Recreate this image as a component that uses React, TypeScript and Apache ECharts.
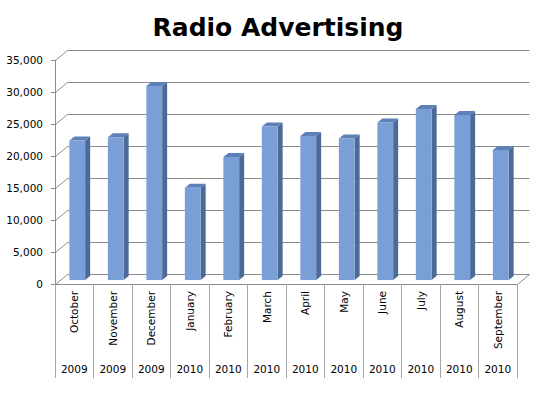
import React, { useEffect, useRef } from "react";
import * as echarts from "echarts";

const months = ["October", "November", "December", "January", "February", "March", "April", "May", "June", "July", "August", "September"];
const years = ["2009", "2009", "2009", "2010", "2010", "2010", "2010", "2010", "2010", "2010", "2010", "2010"];
const values = [21800, 22300, 30300, 14400, 19200, 24000, 22500, 22100, 24600, 26700, 25800, 20300];
const yTicks = [0, 5000, 10000, 15000, 20000, 25000, 30000, 35000];

const DX = 12;
const DY = -10;
const GRID = "#8c8c8c";
const FONT = "DejaVu Sans";

export default function App() {
  const ref = useRef<HTMLDivElement>(null);
  useEffect(() => {
    if (!ref.current) return;
    const chart = echarts.init(ref.current, undefined, { renderer: "svg" });
    chart.setOption({
      animation: false,
      backgroundColor: "#ffffff",
      graphic: [
        {
          type: "text",
          x: 278,
          y: 27,
          style: {
            text: "Radio Advertising",
            font: `bold 25px "${FONT}"`,
            fill: "#000",
            textAlign: "center",
            textVerticalAlign: "middle",
          },
        },
      ],
      grid: { left: 55, top: 60, width: 462, height: 224 },
      xAxis: [
        {
          type: "category",
          data: months,
          boundaryGap: true,
          axisLine: { show: true, lineStyle: { color: GRID } },
          axisTick: { show: true, length: 94, lineStyle: { color: "#a6a6a6" } },
          axisLabel: { interval: 0, rotate: 90, margin: 7, fontSize: 10.5, color: "#000", fontFamily: FONT },
          splitLine: { show: false },
        },
        {
          type: "category",
          data: years,
          position: "bottom",
          offset: 76,
          boundaryGap: true,
          axisLine: { show: false },
          axisTick: { show: false },
          axisLabel: { interval: 0, margin: 3, fontSize: 10.5, color: "#000", fontFamily: FONT },
        },
      ],
      yAxis: {
        type: "value",
        min: 0,
        max: 35000,
        interval: 5000,
        axisLine: { show: true, lineStyle: { color: GRID } },
        axisTick: { show: true, length: 4, lineStyle: { color: GRID } },
        splitLine: { show: false },
        axisLabel: {
          margin: 12,
          fontSize: 10.5,
          color: "#000",
          fontFamily: FONT,
          formatter: (v: number) => v.toLocaleString("en-US"),
        },
      },
      series: [
        {
          type: "custom",
          z: 1,
          silent: true,
          data: yTicks.map((v) => [0, v]),
          renderItem: (params: any, api: any) => {
            const v = api.value(1);
            const cs = params.coordSys;
            const y = Math.round(api.coord([0, v])[1]) + 0.5;
            const x0 = Math.round(cs.x) + 0.5;
            const x1 = Math.round(cs.x + cs.width) + 0.5;
            const children: any[] = [
              {
                type: "polyline",
                shape: { points: [[x0, y], [x0 + DX, y + DY], [x1 + DX, y + DY]] },
                style: { stroke: GRID, fill: null, lineWidth: 1 },
              },
            ];
            if (v === 0) {
              children.push({
                type: "line",
                shape: { x1: x1, y1: y, x2: x1 + DX, y2: y + DY },
                style: { stroke: GRID, lineWidth: 1 },
              });
            }
            return { type: "group", children };
          },
        },
        {
          type: "custom",
          z: 5,
          data: values.map((v, i) => [i, v]),
          renderItem: (params: any, api: any) => {
            const i = api.value(0);
            const v = api.value(1);
            const top = api.coord([i, v]);
            const base = api.coord([i, 0]);
            const band = api.size([1, 0])[0];
            const w = band * 0.41;
            const cx = top[0] + 3;
            const xl = cx - w / 2;
            const xr = cx + w / 2;
            const yt = top[1] - 4;
            const yb = base[1] - 4;
            const dx = 5;
            const dy = -4;
            return {
              type: "group",
              children: [
                {
                  type: "polygon",
                  shape: { points: [[xr, yt], [xr + dx, yt + dy], [xr + dx, yb + dy], [xr, yb]] },
                  style: { fill: "#4b6a97" },
                },
                {
                  type: "polygon",
                  shape: { points: [[xl, yt], [xl + dx, yt + dy], [xr + dx, yt + dy], [xr, yt]] },
                  style: { fill: "#5d80b8" },
                },
                {
                  type: "rect",
                  shape: { x: xl, y: yt, width: w, height: yb - yt },
                  style: { fill: "#7a9fd7" },
                },
              ],
            };
          },
        },
      ],
    });
    return () => chart.dispose();
  }, []);
  return <div ref={ref} style={{ position: "absolute", left: 0, top: 0, width: 547, height: 396 }} />;
}
